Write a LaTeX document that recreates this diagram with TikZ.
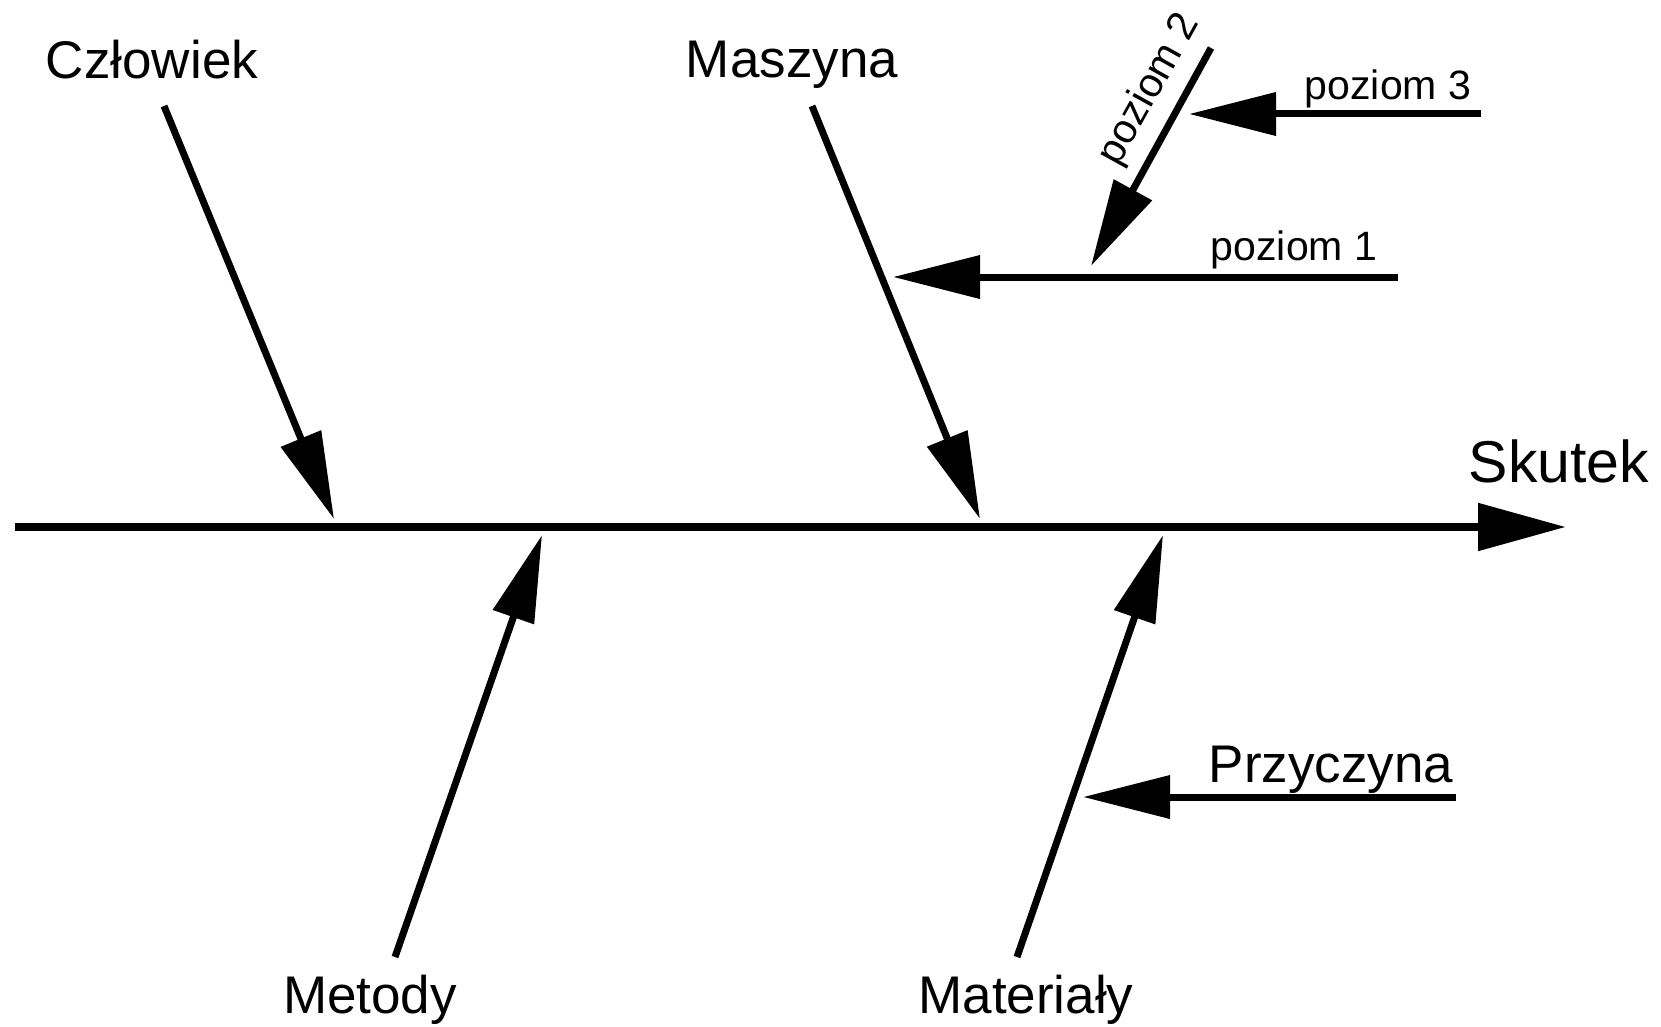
\documentclass[tikz,border=0pt]{standalone}
\usepackage{fontspec}
\setmainfont{Liberation Sans}
\usetikzlibrary{arrows.meta}
\begin{document}
\begin{tikzpicture}[x=1pt,y=-1pt,
  lbl/.style={inner sep=0pt, anchor=base, font=\fontsize{53}{60}\selectfont},
  small/.style={inner sep=0pt, anchor=base, font=\fontsize{41}{48}\selectfont},
  bone/.style={line width=7pt, -{Triangle[length=87pt,width=42pt]}},
  spine/.style={line width=8.5pt, -{Triangle[length=88pt,width=46pt]}}]
\useasboundingbox[fill=white] (0,0) rectangle (1661,1027);
% labels
\node[lbl] (czl) at (152,79) {Człowiek};
\node[lbl] (masz) at (792,78) {Maszyna};
\node[lbl, font=\fontsize{59}{66}\selectfont] (skutek) at (1559,482) {Skutek};
\node[lbl] (met) at (370,1013) {Metody};
\node[lbl] (mat) at (1026,1013) {Materiały};
\node[lbl] (przy) at (1331,782) {Przyczyna};
\node[small] (p1) at (1294,260) {poziom 1};
\node[small] (p3) at (1388,100) {poziom 3};
\node[small, rotate=61] (p2) at (1159,95) {poziom 2};
% coordinates
\coordinate (s0) at (15,527); \coordinate (s1) at (1566,527);
\coordinate (c0) at (164,106); \coordinate (c1) at (334,519);
\coordinate (m0) at (812,106); \coordinate (m1) at (980,519);
\coordinate (me0) at (395,957); \coordinate (me1) at (542,535);
\coordinate (ma0) at (1017,957); \coordinate (ma1) at (1163,535);
\coordinate (l10) at (1398,277); \coordinate (l11) at (893,277);
\coordinate (l20) at (1211,48); \coordinate (l21) at (1091,266);
\coordinate (l30) at (1481,114); \coordinate (l31) at (1189,114);
\coordinate (pr0) at (1456,797); \coordinate (pr1) at (1083,797);
% arrows
\draw[spine] (s0) -- (s1);
\draw[bone] (c0) -- (c1);
\draw[bone] (m0) -- (m1);
\draw[bone] (me0) -- (me1);
\draw[bone] (ma0) -- (ma1);
\draw[bone] (l10) -- (l11);
\draw[bone] (l20) -- (l21);
\draw[bone] (l30) -- (l31);
\draw[bone] (pr0) -- (pr1);
\end{tikzpicture}
\end{document}
